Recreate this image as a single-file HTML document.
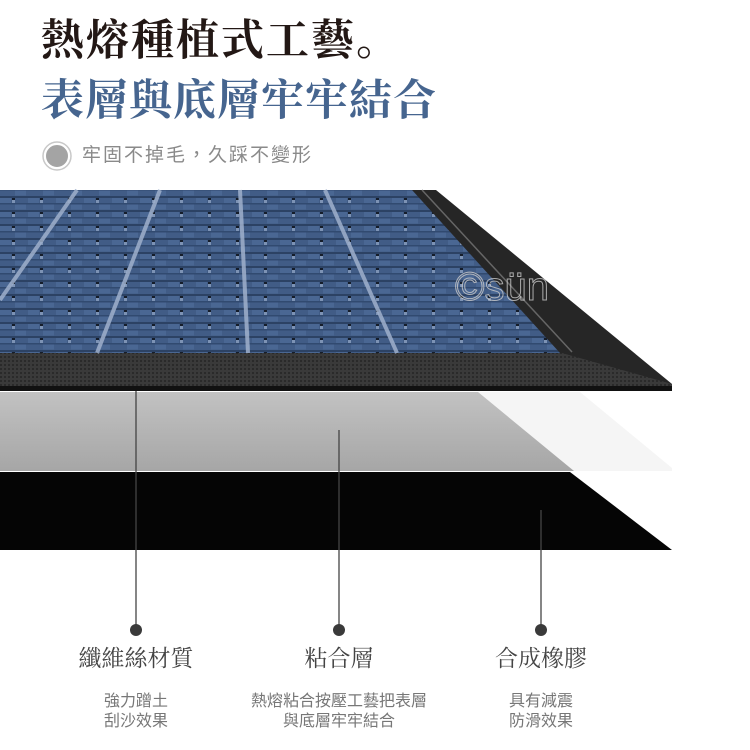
<!DOCTYPE html>
<html><head><meta charset="utf-8"><style>
html,body{margin:0;padding:0;background:#fff;width:750px;height:750px;overflow:hidden}
body{position:relative;font-family:"Liberation Sans","Noto Sans CJK TC",sans-serif}
.t{position:absolute;white-space:nowrap}
.serif{font-family:"Liberation Serif","Noto Serif CJK SC",serif}
</style></head><body>
<svg width="750" height="750" style="position:absolute;left:0;top:0">
<defs>
<pattern id="tex" width="28" height="14" patternUnits="userSpaceOnUse">
<rect width="28" height="14" fill="#415c86"/>
<rect y="0" width="28" height="2" fill="#2c4264"/>
<rect y="7" width="28" height="1.5" fill="#314a70"/>
<rect x="0" y="2" width="11" height="5" fill="#4a6793"/>
<rect x="15" y="8.5" width="11" height="5" fill="#4a6793"/>
<rect x="12" y="2" width="3" height="5" fill="#7d93b5"/>
<rect x="12" y="2" width="3" height="2" fill="#151d2a"/>
</pattern>
<pattern id="rub" width="4" height="4" patternUnits="userSpaceOnUse">
<rect width="4" height="4" fill="#3a3a3a"/><rect width="2" height="2" fill="#2a2a2a"/>
</pattern>
<linearGradient id="g1" x1="0" y1="0" x2="0" y2="1">
<stop offset="0" stop-color="#c2c2c2"/><stop offset="1" stop-color="#a6a6a6"/></linearGradient>
</defs>
<polygon points="0,190 436,190 672,384 672,391 0,391" fill="#262626"/>
<polygon points="0,353 562,353 672,384 672,391 0,391" fill="url(#rub)"/>
<polygon points="0,386 672,386 672,391 0,391" fill="#111"/>
<line x1="422" y1="190" x2="572" y2="352" stroke="#666" stroke-width="1.5"/>
<polygon points="0,190 412,190 560,353 0,353" fill="url(#tex)"/>
<g stroke="#9fb0cc" stroke-width="4" opacity="0.85">
<line x1="77" y1="190" x2="0" y2="300"/>
<line x1="160" y1="190" x2="97" y2="353"/>
<line x1="240" y1="190" x2="248" y2="353"/>
<line x1="325" y1="190" x2="397" y2="353"/>
</g>
<text x="455" y="300" font-family="Liberation Sans" font-size="40" fill="none" stroke="#ccc" stroke-width="1" opacity="0.8">©sün</text>
<polygon points="0,392 580,392 672,468 672,471 0,471" fill="#f2f2f2" opacity="0.8"/>
<polygon points="0,392 478,392 574,471 0,471" fill="url(#g1)"/>
<polygon points="0,472 570,472 672,550 0,550" fill="#050505"/>
<g stroke="#444" stroke-width="1.3">
<line x1="136" y1="391" x2="136" y2="630"/>
<line x1="339" y1="430" x2="339" y2="630"/>
<line x1="541" y1="510" x2="541" y2="630"/>
</g>
<g fill="#3a3a3a"><circle cx="136" cy="630" r="6"/><circle cx="339" cy="630" r="6"/><circle cx="541" cy="630" r="6"/></g>
<circle cx="57" cy="156" r="12" fill="#a4a4a4" stroke="#fff" stroke-width="2"/>
<circle cx="57" cy="156" r="14" fill="none" stroke="#c8c8c8" stroke-width="1.5"/>
</svg>
<div class="t serif" style="left:41px;top:16px;font-size:43px;font-weight:bold;color:#231815;letter-spacing:2px;line-height:52px">熱熔種植式工藝。</div>
<div class="t serif" style="left:41px;top:76px;font-size:43px;font-weight:bold;color:#46658f;letter-spacing:1px;line-height:52px">表層與底層牢牢結合</div>
<div class="t" style="left:82px;top:144px;font-size:19px;color:#8a8a8a;letter-spacing:2px;line-height:24px">牢固不掉毛，久踩不變形</div>
<div class="t serif" style="left:36px;width:200px;text-align:center;top:644px;font-size:23px;color:#444;line-height:30px">纖維絲材質</div>
<div class="t serif" style="left:239px;width:200px;text-align:center;top:644px;font-size:23px;color:#444;line-height:30px">粘合層</div>
<div class="t serif" style="left:441px;width:200px;text-align:center;top:644px;font-size:23px;color:#444;line-height:30px">合成橡膠</div>
<div class="t" style="left:36px;width:200px;text-align:center;top:692px;font-size:16px;color:#777;line-height:20px">強力蹭土<br>刮沙效果</div>
<div class="t" style="left:189px;width:300px;text-align:center;top:692px;font-size:16px;color:#777;line-height:20px">熱熔粘合按壓工藝把表層<br>與底層牢牢結合</div>
<div class="t" style="left:441px;width:200px;text-align:center;top:692px;font-size:16px;color:#777;line-height:20px">具有減震<br>防滑效果</div>
</body></html>
